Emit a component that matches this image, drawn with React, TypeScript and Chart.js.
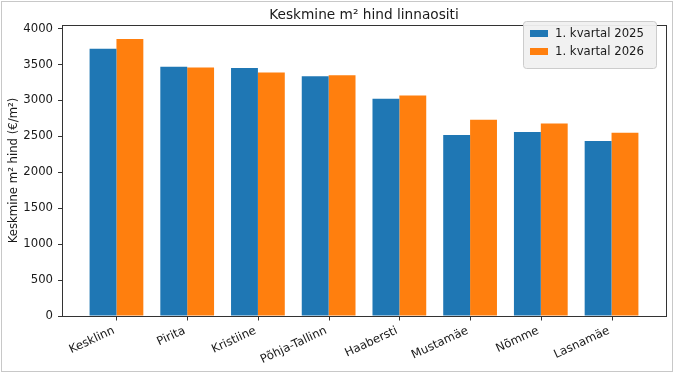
import React, { useEffect, useRef } from "react";
import { Chart, registerables } from "chart.js";

Chart.register(...registerables);

const categories = ["Kesklinn", "Pirita", "Kristiine", "Põhja-Tallinn", "Haabersti", "Mustamäe", "Nõmme", "Lasnamäe"];
const q2025 = [3720, 3470, 3450, 3335, 3025, 2520, 2560, 2435];
const q2026 = [3855, 3460, 3390, 3350, 3070, 2730, 2680, 2550];
const seriesLabels = ["1. kvartal 2025", "1. kvartal 2026"];
const yTicks = [0, 500, 1000, 1500, 2000, 2500, 3000, 3500, 4000];
const titleText = "Keskmine m² hind linnaositi";
const yAxisTitle = "Keskmine m² hind (€/m²)";

const FONT = "'DejaVu Sans', sans-serif";
const BLUE = "#1f77b4";
const ORANGE = "#ff7f0e";
const TXT = "#1a1a1a";
const FS = 11.7;

const decor = {
  id: "decor",
  beforeDraw(chart: any) {
    const ctx = chart.ctx;
    ctx.save();
    ctx.fillStyle = "#ffffff";
    ctx.fillRect(0, 0, chart.width, chart.height);
    ctx.strokeStyle = "#c8c8c8";
    ctx.lineWidth = 1;
    ctx.strokeRect(1.5, 1.5, 671, 370);
    ctx.restore();
  },
  afterDraw(chart: any) {
    const ctx = chart.ctx;
    const a = chart.chartArea;
    ctx.save();
    // spines
    ctx.strokeStyle = "#333333";
    ctx.lineWidth = 1;
    ctx.strokeRect(Math.round(a.left) + 0.5, Math.round(a.top) + 0.5, Math.round(a.right - a.left), Math.round(a.bottom - a.top));
    // x tick marks
    const xs = chart.scales.x;
    ctx.beginPath();
    categories.forEach((_, i) => {
      const px = Math.round(xs.getPixelForValue(i)) + 0.5;
      ctx.moveTo(px, Math.round(a.bottom));
      ctx.lineTo(px, Math.round(a.bottom) + 4.5);
    });
    ctx.stroke();
    // title
    ctx.fillStyle = TXT;
    ctx.font = `13.7px ${FONT}`;
    ctx.textAlign = "center";
    ctx.textBaseline = "alphabetic";
    ctx.fillText(titleText, (a.left + a.right) / 2, 18.5);
    // y axis title
    ctx.save();
    ctx.translate(13.5, (a.top + a.bottom) / 2);
    ctx.rotate(-Math.PI / 2);
    ctx.font = `${FS}px ${FONT}`;
    ctx.textAlign = "center";
    ctx.textBaseline = "middle";
    ctx.fillText(yAxisTitle, 0, 0);
    ctx.restore();
    // x tick labels (rotated 25°, right-aligned like matplotlib)
    const th = (25 * Math.PI) / 180;
    const h = FS * 1.17;
    ctx.font = `${FS}px ${FONT}`;
    ctx.fillStyle = TXT;
    ctx.textAlign = "right";
    ctx.textBaseline = "bottom";
    categories.forEach((c, i) => {
      const px = xs.getPixelForValue(i);
      const topY = a.bottom + 7;
      ctx.save();
      ctx.translate(px, topY + h * Math.cos(th));
      ctx.rotate(-th);
      ctx.fillText(c, 0, 0);
      ctx.restore();
    });
    // legend
    const bx = 523.5, by = 21.5, bw = 133, bh = 47, r = 3;
    ctx.beginPath();
    ctx.moveTo(bx + r, by);
    ctx.lineTo(bx + bw - r, by);
    ctx.quadraticCurveTo(bx + bw, by, bx + bw, by + r);
    ctx.lineTo(bx + bw, by + bh - r);
    ctx.quadraticCurveTo(bx + bw, by + bh, bx + bw - r, by + bh);
    ctx.lineTo(bx + r, by + bh);
    ctx.quadraticCurveTo(bx, by + bh, bx, by + bh - r);
    ctx.lineTo(bx, by + r);
    ctx.quadraticCurveTo(bx, by, bx + r, by);
    ctx.closePath();
    ctx.fillStyle = "rgba(240,240,240,0.95)";
    ctx.fill();
    ctx.strokeStyle = "#cccccc";
    ctx.stroke();
    const ds = chart.data.datasets;
    ctx.font = `${FS}px ${FONT}`;
    ctx.textAlign = "left";
    ctx.textBaseline = "middle";
    ds.forEach((d: any, i: number) => {
      const cy = 33.5 + i * 18;
      ctx.fillStyle = d.backgroundColor;
      ctx.fillRect(530, cy - 3.5, 18, 7);
      ctx.fillStyle = TXT;
      ctx.fillText(d.label, 555, cy);
    });
    ctx.restore();
  },
};

export default function App() {
  const ref = useRef<HTMLCanvasElement>(null);
  useEffect(() => {
    if (!ref.current) return;
    const chart = new Chart(ref.current, {
      type: "bar",
      data: {
        datasets: [
          {
            label: seriesLabels[0],
            data: q2025.map((v, i) => ({ x: i, y: v })),
            backgroundColor: BLUE,
            borderWidth: 0,
            categoryPercentage: 0.76,
            barPercentage: 1.0,
          },
          {
            label: seriesLabels[1],
            data: q2026.map((v, i) => ({ x: i, y: v })),
            backgroundColor: ORANGE,
            borderWidth: 0,
            categoryPercentage: 0.76,
            barPercentage: 1.0,
          },
        ],
      },
      plugins: [decor],
      options: {
        animation: false,
        responsive: false,
        devicePixelRatio: 1,
        layout: { padding: { top: 25, left: 0, right: 9, bottom: 0 } },
        plugins: {
          legend: { display: false },
          title: { display: false },
          tooltip: { enabled: false },
        },
        scales: {
          x: {
            type: "linear",
            min: -0.77,
            max: 7.77,
            offset: false,
            grid: { display: false },
            border: { display: true, color: "#333333" },
            afterBuildTicks: (axis: any) => {
              axis.ticks = categories.map((_, i) => ({ value: i }));
            },
            afterFit: (axis: any) => {
              axis.height = 59;
            },
            ticks: {
              autoSkip: false,
              maxRotation: 0,
              font: { family: FONT, size: FS },
              callback: () => "",
            },
          },
          y: {
            type: "linear",
            min: 0,
            max: 4050,
            grid: { display: true, drawOnChartArea: false, drawTicks: true, tickLength: 4, color: "#333333" },
            border: { display: true, color: "#333333" },
            afterBuildTicks: (axis: any) => {
              axis.ticks = yTicks.map((v) => ({ value: v }));
            },
            afterFit: (axis: any) => {
              axis.width = 62;
            },
            ticks: {
              padding: 5,
              color: TXT,
              font: { family: FONT, size: FS },
              callback: (v: any) => String(v),
            },
          },
        },
      },
    });
    return () => chart.destroy();
  }, []);
  return (
    <div style={{ position: "absolute", left: 0, top: 0, width: 675, height: 375 }}>
      <canvas ref={ref} width={675} height={375} style={{ display: "block", width: 675, height: 375 }} />
    </div>
  );
}
